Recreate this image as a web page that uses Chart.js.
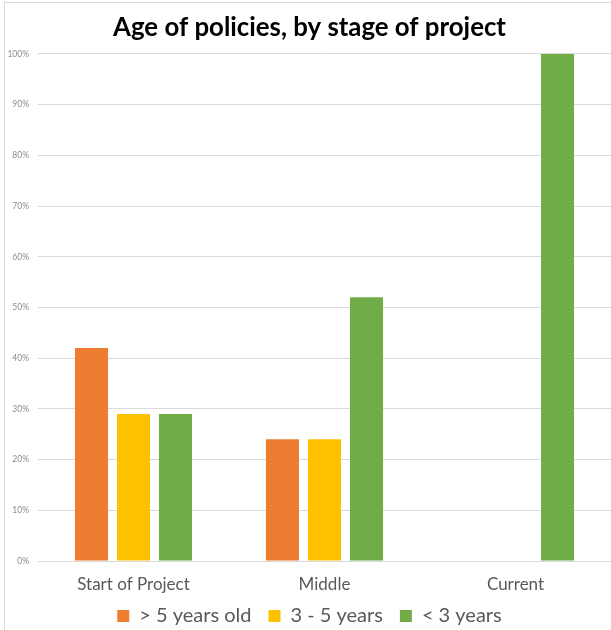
<!DOCTYPE html>
<html lang="en">
<head>
  <meta charset="UTF-8">
  <title>Age of policies, by stage of project</title>
  <style>
body {
  margin: 0;
  background: #ffffff;
  overflow: hidden;
}
/* outer frame of the chart, right and bottom edges fall outside the window */
.frame {
  position: absolute;
  left: 4px;
  top: 2px;
  width: 700px;
  height: 700px;
  border: 1px solid #d9d9d9;
}
.chart-box {
  position: absolute;
  left: 0;
  top: 0;
  width: 611px;
  height: 630px;
}
  </style>
</head>
<body>
  <div class="frame"></div>
  <div class="chart-box">
    <canvas id="ageChart"></canvas>
  </div>

  <script src="https://cdn.jsdelivr.net/npm/chart.js"></script>
  <script>
    const stages = ['Start of Project', 'Middle', 'Current'];
    const olderThan5 = [42, 24, 0];
    const between3and5 = [29, 24, 0];
    const under3 = [29, 52, 100];
    const yTicks = [0, 10, 20, 30, 40, 50, 60, 70, 80, 90, 100];

    // keep the legend band short and pull its top up a bit, like the original
    const legendHeight = {
      id: 'legendHeight',
      afterInit(chart) {
        const legend = chart.legend;
        const fit = legend.fit;
        legend.fit = function() {
          fit.call(this);
          this.height = 34;
        };
      },
      afterLayout(chart) {
        chart.legend.top -= 7;
        chart.legend.height += 7;
      }
    };

    const ctx = document.getElementById('ageChart').getContext('2d');

    new Chart(ctx, {
      type: 'bar',
      data: {
        labels: stages,
        datasets: [{
          label: '> 5 years old',
          data: olderThan5,
          backgroundColor: '#ED7D31'
        }, {
          label: '3 - 5 years',
          data: between3and5,
          backgroundColor: '#FFC000'
        }, {
          label: '< 3 years',
          data: under3,
          backgroundColor: '#70AD47'
        }]
      },
      plugins: [legendHeight],
      options: {
        responsive: true,
        maintainAspectRatio: false,
        animation: false,
        categoryPercentage: 0.66,
        barPercentage: 0.786,
        layout: {
          padding: { left: 8, right: 0, top: 0, bottom: 0 }
        },
        plugins: {
          title: {
            display: true,
            text: 'Age of policies, by stage of project',
            color: '#000000',
            font: { family: 'Lato', size: 25.8, weight: 'bold' },
            padding: { top: 12, bottom: 11 }
          },
          legend: {
            display: true,
            position: 'bottom',
            labels: {
              color: '#595959',
              font: { family: 'Lato', size: 20 },
              boxWidth: 12,
              boxHeight: 12,
              padding: 17
            }
          },
          tooltip: { enabled: false }
        },
        scales: {
          x: {
            afterFit: function(scale) {
              scale.height = 35;
            },
            grid: { display: false, drawTicks: false },
            border: { display: true, color: '#d9d9d9' },
            ticks: {
              color: '#595959',
              font: { family: 'Lato', size: 17 },
              padding: 13
            }
          },
          y: {
            min: 0,
            max: 100,
            afterBuildTicks: function(scale) {
              scale.ticks = yTicks.map(v => ({ value: v }));
            },
            afterFit: function(scale) {
              scale.width = 30;
            },
            grid: { color: '#d9d9d9', drawTicks: false },
            border: { display: false },
            ticks: {
              color: '#8c8c8c',
              font: { family: 'Lato', size: 8.5 },
              padding: 9,
              callback: function(value) {
                return value + '%';
              }
            }
          }
        }
      }
    });
  </script>
</body>
</html>
